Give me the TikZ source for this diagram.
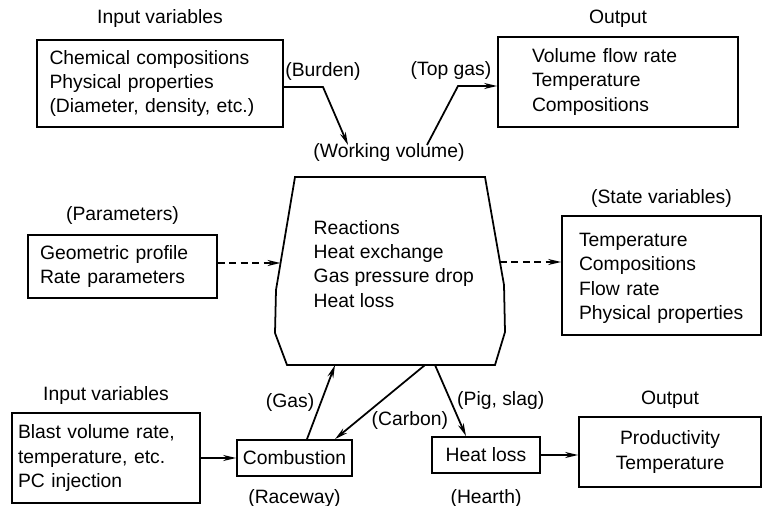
\documentclass[tikz,border=0pt]{standalone}
\usepackage{fontspec}
\setmainfont{Liberation Sans}
\usetikzlibrary{positioning, arrows.meta}

\begin{document}
\begin{tikzpicture}[x=0.02cm, y=-0.02cm, line width=1pt, >={Stealth[length=0.26cm, width=0.12cm]},
    font=\fontsize{11}{13.7}\selectfont,
    box/.style={draw, align=left, inner ysep=0pt},
    flowdash/.style={dash pattern=on 4pt off 2.5pt}]
  \useasboundingbox (0,0) rectangle (763,506);

  % boxes round the furnace
  \node[box, minimum height=1.74cm, text width=4.42cm, inner xsep=0.25cm] (inTop) at (160,83.5) {Chemical compositions\\Physical properties\\(Diameter, density, etc.)};
  \node[above=0.09cm of inTop] (inTopHead) {Input variables};
  \node[box, minimum height=1.8cm, text width=3.44cm, inner xsep=0.68cm] (outTop) at (618,82) {Volume flow rate\\Temperature\\Compositions};
  \node[above=0.03cm of outTop] (outTopHead) {Output};
  \node[box, minimum height=1.26cm, text width=3.3cm, inner xsep=0.24cm] (par) at (122.5,266.5) {Geometric profile\\Rate parameters};
  \node[above=0.05cm of par] (parHead) {(Parameters)};
  \node[box, minimum height=2.38cm, text width=3.3cm, inner xsep=0.34cm] (state) at (661.5,275.5) {\rule{0pt}{0.38cm}Temperature\\Compositions\\Flow rate\\Physical properties};
  \node[above=0.01cm of state] (stateHead) {(State variables)};
  \node[box, minimum height=1.8cm, text width=3.52cm, inner xsep=0.12cm] (blast) at (106,458) {Blast volume rate,\\temperature, etc.\\PC injection};
  \node[above=0.01cm of blast] (blastHead) {Input variables};
  \node[box, align=center, minimum width=2.3cm, minimum height=0.72cm] (comb) at (294.5,458) {Combustion};
  \node[below=0.11cm of comb] (combFoot) {(Raceway)};
  \node[box, align=center, minimum width=2.16cm, minimum height=0.72cm] (heat) at (486,455) {Heat loss};
  \node[below=0.17cm of heat] (heatFoot) {(Hearth)};
  \node[box, align=center, minimum width=3.64cm, minimum height=1.4cm] (outBot) at (670,452) {Productivity\\Temperature};
  \node[above=0.01cm of outBot] (outBotHead) {Output};

  % furnace (working volume)
  \draw (295,177) -- (485,177) -- (504,285) -- (505,332) -- (495,365)
    -- (287,365) -- (275,333) -- (276,290) -- cycle;
  \node (workHead) at (389,153) {(Working volume)};
  \node[align=left, anchor=west] (work) at (307,264) {Reactions\\Heat exchange\\Gas pressure drop\\Heat loss};
  \coordinate (wl) at (280.5,263);
  \coordinate (wr) at (500,262);
  \coordinate (wgas) at (335,365);
  \coordinate (wcarb) at (425,365);
  \coordinate (wpig) at (435,365);
  \coordinate (wbur) at (348,145);
  \coordinate (wtop) at (427,145);
  \coordinate (bur) at (323,87);
  \coordinate (top) at (458,86);

  % flows
  \draw[->] (inTop.east |- bur) -- (bur) node[above] {(Burden)} -- (wbur);
  \draw[->] (wtop) -- (top) node[above, xshift=-0.14cm] {(Top gas)} -- (outTop.west |- top);
  \draw[->, flowdash] (par.east |- wl) -- (wl);
  \draw[->, flowdash] (wr) -- (state.west |- wr);
  \draw[->] (blast) -- (comb);
  \draw[->] ([xshift=0.25cm]comb.north) -- node[left] {(Gas)} (wgas);
  \draw[->] (wcarb) -- node[pos=0.75, right=0.15cm] {(Carbon)} ([xshift=0.81cm]comb.north);
  \draw[->] (wpig) -- node[right] {(Pig, slag)} ([xshift=-0.4cm]heat.north);
  \draw[->] (heat) -- (heat.east -| outBot.west);
\end{tikzpicture}
\end{document}
